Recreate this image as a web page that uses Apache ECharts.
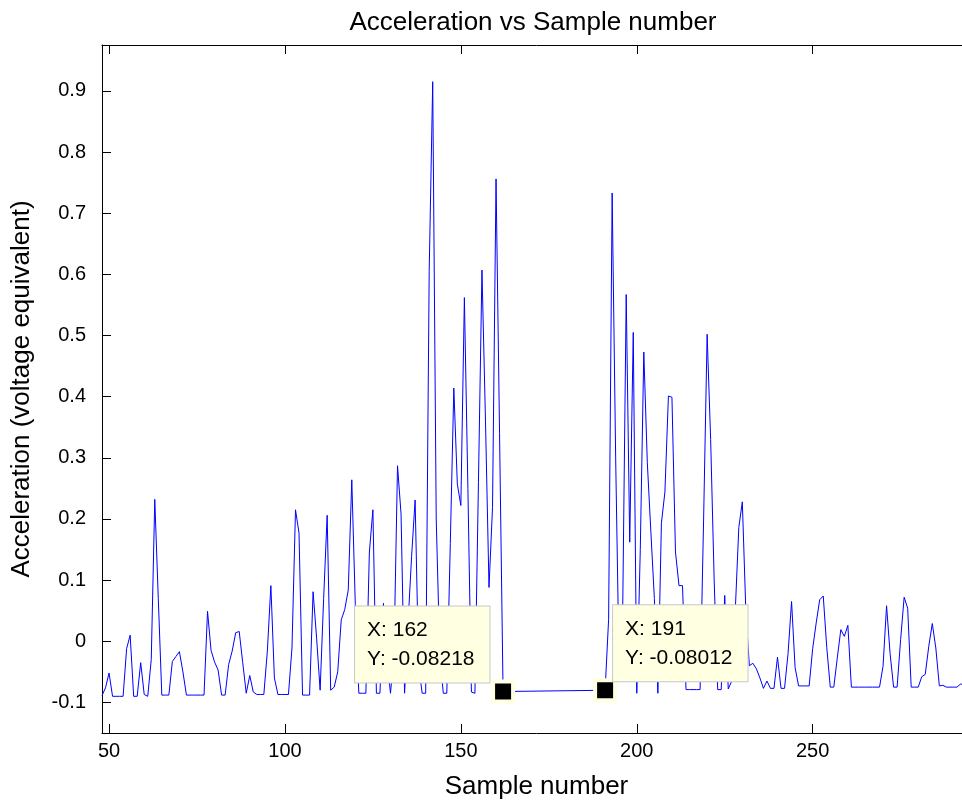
<!DOCTYPE html>
<html>
<head>
<meta charset="utf-8">
<script src="https://cdn.jsdelivr.net/npm/echarts@6/dist/echarts.min.js"></script>
<style>
html,body{margin:0;padding:0;background:#fff;overflow:hidden;}
#chart{width:972px;height:805px;}
</style>
</head>
<body>
<div id="chart"></div>
<script>
// ---- data ----
const chartTitle = 'Acceleration vs Sample number';
const xAxisTitle = 'Sample number';
const yAxisTitle = 'Acceleration (voltage equivalent)';

// first run of samples: 48 .. 162
const firstSample = 48;
const accelerationPart1 = [
  -0.089, -0.076, -0.052, -0.090, -0.090, -0.090, -0.090, -0.012, 0.010, -0.090,
  -0.090, -0.035, -0.087, -0.090, -0.030, 0.232, 0.070, -0.088, -0.088, -0.088,
  -0.033, -0.025, -0.017, -0.050, -0.088, -0.088, -0.088, -0.088, -0.088, -0.088,
  0.049, -0.015, -0.034, -0.047, -0.088, -0.088, -0.038, -0.016, 0.014, 0.016,
  -0.035, -0.085, -0.056, -0.083, -0.087, -0.087, -0.087, -0.016, 0.091, -0.060,
  -0.087, -0.087, -0.087, -0.087, -0.011, 0.215, 0.177, -0.088, -0.088, -0.088,
  0.081, 0.005, -0.080, 0.070, 0.206, -0.080, -0.075, -0.050, 0.035, 0.052,
  0.084, 0.264, 0.060, -0.085, -0.085, -0.085, 0.146, 0.215, -0.085, -0.085,
  0.062, -0.030, -0.085, -0.020, 0.287, 0.208, -0.085, 0.030, 0.139, 0.231,
  -0.040, -0.085, -0.085, 0.605, 0.915, 0.200, -0.020, -0.085, -0.085, 0.160,
  0.414, 0.257, 0.222, 0.562, 0.250, -0.083, -0.085, 0.260, 0.607, 0.360,
  0.088, 0.219, 0.756, 0.340, -0.08218
];
// second run of samples: 191 .. 295
const resumeSample = 191;
const accelerationPart2 = [
  -0.08012, 0.036, 0.733, 0.300, -0.050, 0.050, 0.567, 0.162, 0.505, -0.085,
  0.150, 0.473, 0.292, 0.180, 0.070, -0.085, 0.193, 0.244, 0.401, 0.399,
  0.146, 0.091, 0.091, -0.079, -0.079, -0.079, -0.079, -0.079, 0.200, 0.502,
  0.330, 0.100, -0.079, -0.079, 0.075, -0.078, -0.065, 0.050, 0.186, 0.228,
  0.050, -0.040, -0.036, -0.045, -0.060, -0.077, -0.065, -0.077, -0.077, -0.026,
  -0.077, -0.077, -0.020, 0.065, -0.043, -0.073, -0.073, -0.073, -0.073, -0.012,
  0.030, 0.068, 0.074, -0.010, -0.075, -0.075, -0.027, 0.019, 0.008, 0.026,
  -0.075, -0.075, -0.075, -0.075, -0.075, -0.075, -0.075, -0.075, -0.075, -0.041,
  0.058, -0.020, -0.075, -0.075, 0.003, 0.072, 0.054, -0.075, -0.075, -0.075,
  -0.058, -0.054, -0.008, 0.029, -0.011, -0.073, -0.072, -0.075, -0.075, -0.075,
  -0.075, -0.070, -0.071, -0.071, -0.071
];

const xTickValues = [50, 100, 150, 200, 250];
const yTickValues = [-0.1, 0, 0.1, 0.2, 0.3, 0.4, 0.5, 0.6, 0.7, 0.8, 0.9];
const xRange = [48, 295];
const yRange = [-0.15, 0.975];

const dataTipX = [162, 191];
const dataTipY = [-0.08218, -0.08012];

// ---- build chart ----
const font = '"Liberation Sans", Arial, Helvetica, sans-serif';
const seriesData = [];
accelerationPart1.forEach((v, i) => seriesData.push([firstSample + i, v]));
accelerationPart2.forEach((v, i) => seriesData.push([resumeSample + i, v]));

const tipLabelPos = [[-136, -73], [20, -73]];
const markData = dataTipX.map((x, i) => ({
  coord: [x, dataTipY[i]],
  label: {
    show: true,
    position: tipLabelPos[i],
    align: 'left',
    verticalAlign: 'top',
    formatter: 'X: ' + x + '\nY: ' + dataTipY[i],
    fontFamily: font,
    fontSize: 21,
    lineHeight: 29,
    color: '#000',
    backgroundColor: '#ffffe1',
    borderColor: '#c8c8c8',
    borderWidth: 1,
    padding: [9, 15, 9, 12]
  }
}));

function baseX(pos, main) {
  return {
    type: 'value', position: pos, min: xRange[0], max: xRange[1],
    axisLine: { show: true, onZero: false, lineStyle: { color: '#000', width: 1 } },
    axisTick: { show: true, inside: true, length: 9, customValues: xTickValues, lineStyle: { color: '#000', width: 1 } },
    axisLabel: { show: main, customValues: xTickValues, margin: 8, fontSize: 20, fontFamily: font, color: '#000' },
    splitLine: { show: false },
    name: main ? xAxisTitle : '',
    nameLocation: 'middle', nameGap: 41,
    nameTextStyle: { fontSize: 26, fontFamily: font, color: '#000' }
  };
}
function baseY(pos, main) {
  return {
    type: 'value', position: pos, min: yRange[0], max: yRange[1],
    axisLine: { show: true, onZero: false, lineStyle: { color: '#000', width: 1 } },
    axisTick: { show: true, inside: true, length: 9, customValues: yTickValues, lineStyle: { color: '#000', width: 1 } },
    axisLabel: { show: main, customValues: yTickValues, margin: 16, fontSize: 20, fontFamily: font, color: '#000',
                 formatter: v => String(Math.round(v * 10) / 10) },
    splitLine: { show: false },
    name: main ? yAxisTitle : '',
    nameLocation: 'middle', nameGap: 67, nameRotate: 90,
    nameTextStyle: { fontSize: 26, fontFamily: font, color: '#000' }
  };
}

const chart = echarts.init(document.getElementById('chart'), null, { renderer: 'canvas' });
chart.setOption({
  animation: false,
  backgroundColor: '#fff',
  title: {
    text: chartTitle, left: 528, top: 5, textAlign: 'center',
    textStyle: { fontFamily: font, fontSize: 26, fontWeight: 'normal', color: '#000' }
  },
  grid: { left: 102, top: 45, width: 869, height: 690 },
  xAxis: [baseX('bottom', true), baseX('top', false)],
  yAxis: [baseY('left', true), baseY('right', false)],
  series: [{
    type: 'line',
    xAxisIndex: 0, yAxisIndex: 0,
    data: seriesData,
    showSymbol: false, symbol: 'none',
    clip: true,
    lineStyle: { color: '#0000ff', width: 1 },
    emphasis: { disabled: true },
    markPoint: {
      symbol: 'rect', symbolSize: 20,
      itemStyle: { color: '#000', borderColor: '#ffffe1', borderWidth: 4 },
      data: markData
    }
  }]
});
</script>
</body>
</html>
